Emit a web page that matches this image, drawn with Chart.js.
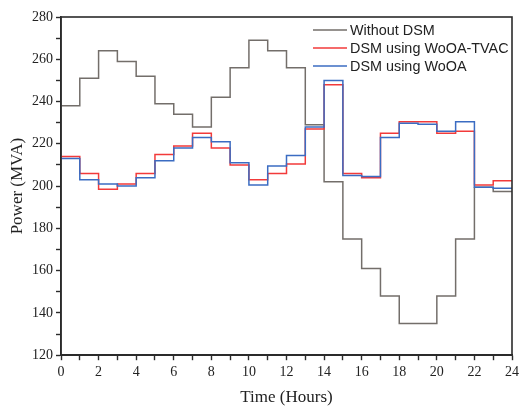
<!DOCTYPE html>
<html>
<head>
  <meta charset="UTF-8">
  <title>Power demand with and without DSM</title>
  <script src="https://cdn.jsdelivr.net/npm/chart.js"></script>
  <style>
    html, body { margin: 0; padding: 0; background: #fff; }
    #wrap { width: 519px; height: 406px; }
  </style>
</head>
<body>
<div id="wrap"><canvas id="chart"></canvas></div>

<script>
  // hour boundaries of the 24 steps
  const hours = [0, 1, 2, 3, 4, 5, 6, 7, 8, 9, 10, 11, 12, 13, 14, 15, 16, 17, 18, 19, 20, 21, 22, 23, 24];

  // one value per hour (held from h to h+1)
  const withoutDSM = [238, 251, 264, 259, 252, 239, 234, 228, 242, 256, 269, 264,
                      256, 229, 202, 175, 161, 148, 135, 135, 148, 175, 199.5, 197.5];
  const woaTvac    = [214, 206, 198.5, 201, 206, 215, 219, 225, 218, 210, 203, 206,
                      210.5, 227, 248, 206, 204, 225, 230.5, 230.5, 225, 226, 200.5, 202.5];
  const woa        = [213, 203, 201, 200, 204, 212, 218, 223, 221, 211, 200.5, 209.5,
                      214.5, 228, 250, 205, 204.5, 223, 229.7, 229.3, 226, 230.5, 199.5, 199];

  const labels = ['Without DSM', 'DSM using WoOA-TVAC', 'DSM using WoOA'];
  const colors = ['#736e6a', '#f23a3a', '#3b6cc2'];

  const yTicks = [120, 140, 160, 180, 200, 220, 240, 260, 280];

  // the last step is closed at hour 24 with the same value
  function toSteps(vals) {
    return hours.map((h, i) => ({ x: h, y: vals[Math.min(i, vals.length - 1)] }));
  }

  const axisColor = '#2b2b2b';

  // frame around the plot and legend inside the top right corner
  const framePlugin = {
    id: 'frame',
    afterDraw(chart) {
      const { ctx, chartArea: a } = chart;
      ctx.save();
      ctx.strokeStyle = axisColor;
      ctx.lineWidth = 1.6;
      ctx.strokeRect(a.left, a.top, a.right - a.left, a.bottom - a.top);

      ctx.font = '14.4px "Liberation Sans", Arial, sans-serif';
      ctx.textBaseline = 'middle';
      ctx.textAlign = 'left';
      labels.forEach((lab, i) => {
        const y = a.top + 13 + i * 18;
        ctx.strokeStyle = colors[i];
        ctx.lineWidth = 1.4;
        ctx.beginPath();
        ctx.moveTo(a.left + 252, y);
        ctx.lineTo(a.left + 286, y);
        ctx.stroke();
        ctx.fillStyle = '#222';
        ctx.fillText(lab, a.left + 289, y + 1);
      });
      ctx.restore();
    }
  };

  const serif = '"Liberation Serif", "Times New Roman", serif';

  new Chart(document.getElementById('chart'), {
    type: 'line',
    data: {
      datasets: [
        { label: labels[0], data: toSteps(withoutDSM), borderColor: colors[0], order: 3 },
        { label: labels[1], data: toSteps(woaTvac), borderColor: colors[1], order: 2 },
        { label: labels[2], data: toSteps(woa), borderColor: colors[2], order: 1 }
      ].map(d => Object.assign(d, { stepped: true, borderWidth: 1.5, pointRadius: 0, fill: false }))
    },
    options: {
      responsive: true,
      maintainAspectRatio: false,
      animation: false,
      layout: { padding: { top: 17, right: 0, left: 5, bottom: 0 } },
      plugins: {
        legend: { display: false },
        tooltip: { enabled: false }
      },
      scales: {
        x: {
          type: 'linear',
          min: 0,
          max: 24,
          // let the "24" label hang to the canvas edge
          afterFit: scale => { scale.paddingRight = 7; },
          ticks: {
            stepSize: 1,
            autoSkip: false,
            maxRotation: 0,
            color: '#222',
            font: { family: serif, size: 14 },
            padding: 4,
            callback: v => (v % 2 === 0 ? v : '')
          },
          grid: { drawOnChartArea: false, tickLength: 5, tickColor: axisColor, tickWidth: 1.4 },
          border: { color: axisColor, width: 1.6 },
          title: { display: true, text: 'Time (Hours)', color: '#222', font: { family: serif, size: 17, lineHeight: 1 }, padding: { top: 4, bottom: 0 } }
        },
        y: {
          min: yTicks[0],
          max: yTicks[yTicks.length - 1],
          ticks: {
            stepSize: 10,
            color: '#222',
            font: { family: serif, size: 14 },
            padding: 3,
            callback: v => (yTicks.includes(v) ? v : '')
          },
          grid: { drawOnChartArea: false, tickLength: 5, tickColor: axisColor, tickWidth: 1.4 },
          border: { color: axisColor, width: 1.6 },
          title: { display: true, text: 'Power (MVA)', color: '#222', font: { family: serif, size: 17, lineHeight: 1 }, padding: { top: 4, bottom: 3 } }
        }
      }
    },
    plugins: [framePlugin]
  });
</script>
</body>
</html>
